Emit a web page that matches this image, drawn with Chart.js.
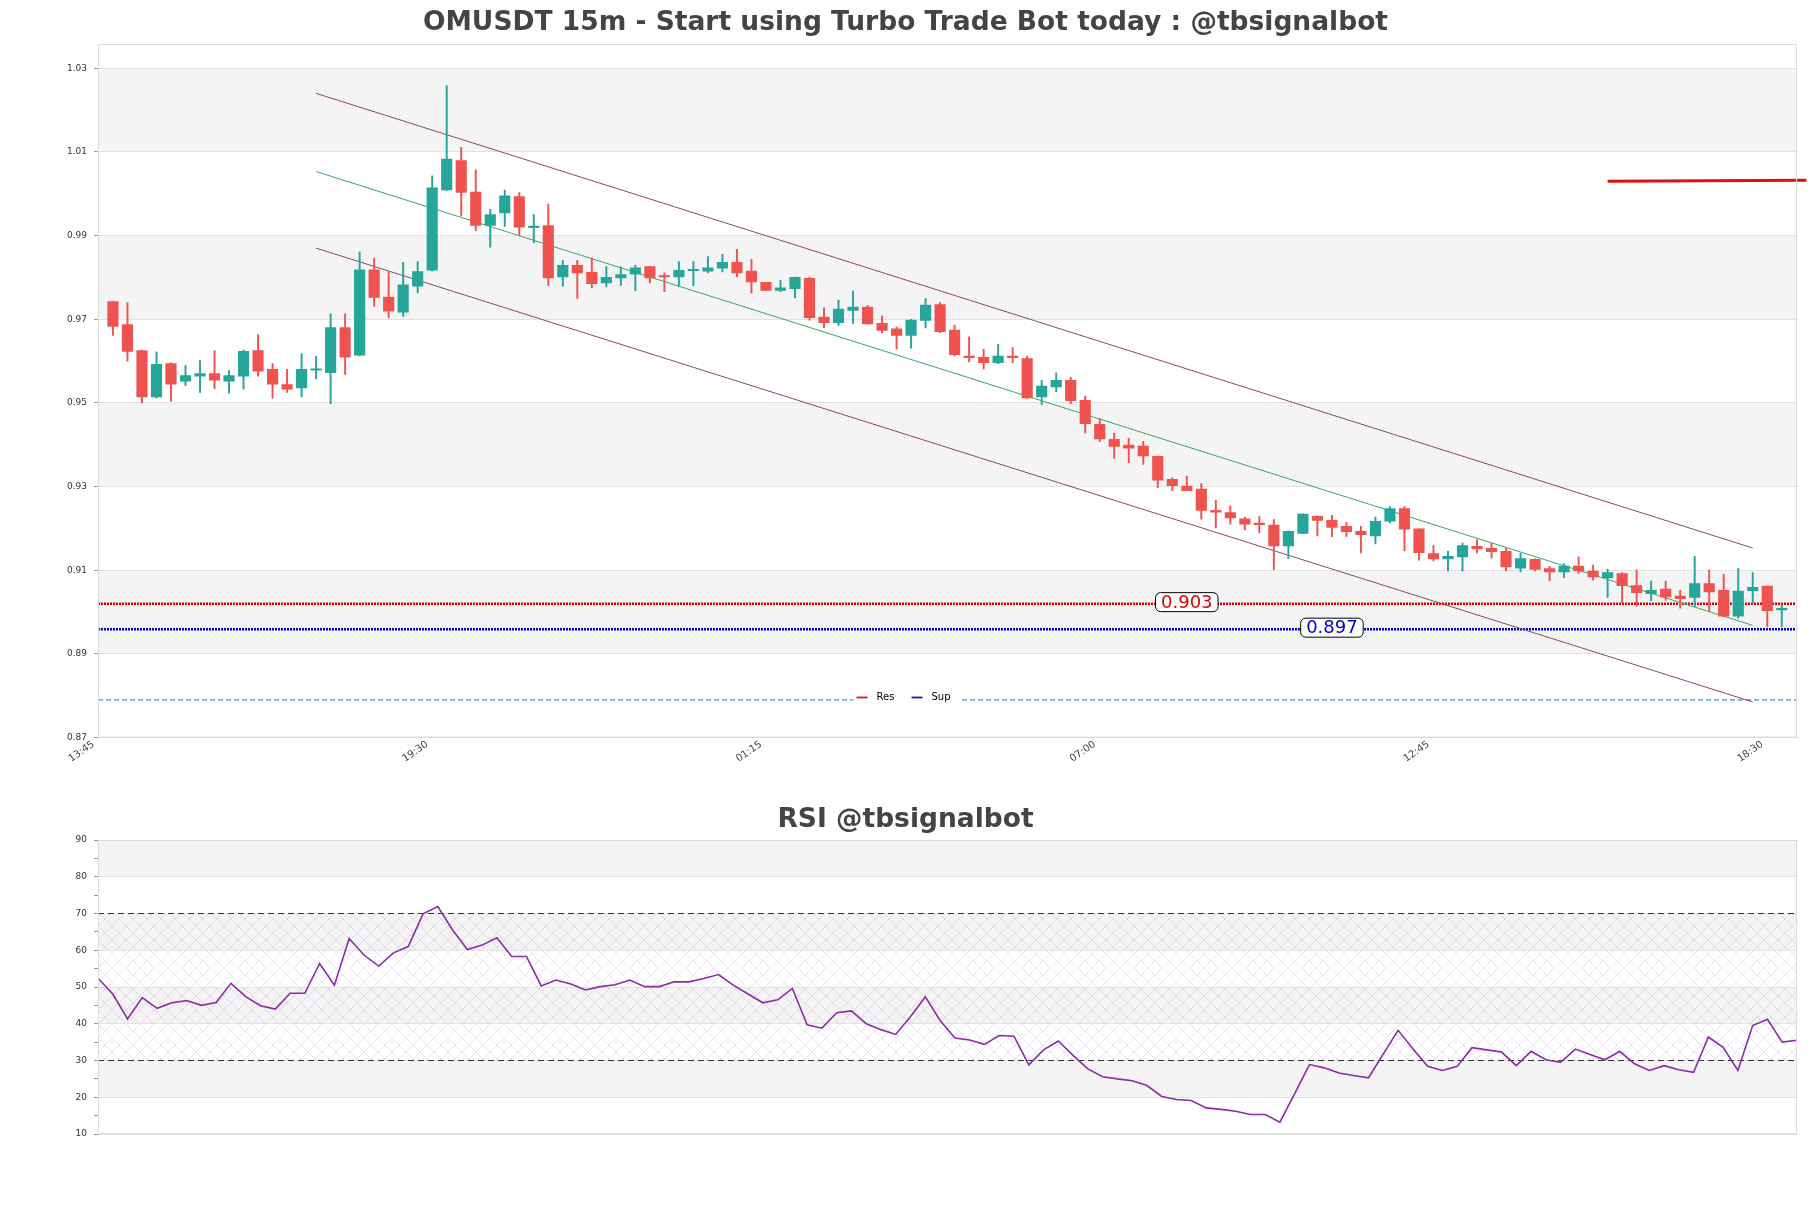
<!DOCTYPE html>
<html>
<head>
<meta charset="utf-8">
<title>OMUSDT 15m</title>
<script src="https://cdn.jsdelivr.net/npm/chart.js@4.4.1/dist/chart.umd.min.js"></script>
<style>
  body { margin: 0; background: #fff; }
  #wrap { position: relative; width: 1811px; height: 1208px; }
  #mainBox { position: absolute; left: 0; top: 0; width: 1811px; height: 800px; }
  #rsiBox { position: absolute; left: 0; top: 800px; width: 1811px; height: 408px; }
</style>
</head>
<body>
<div id="wrap">
  <div id="mainBox"><canvas id="mainChart"></canvas></div>
  <div id="rsiBox"><canvas id="rsiChart"></canvas></div>
</div>
<script>
// candles, 15m, index 0 = 14:00
var opens = [0.9742,0.9687,0.9625,0.9514,0.9594,0.9552,0.9564,0.9570,0.9552,0.9564,
  0.9625,0.9580,0.9544,0.9536,0.9578,0.9572,0.9680,0.9614,0.9818,0.9753,
  0.9717,0.9779,0.9817,1.0009,1.0079,1.0004,0.9924,0.9954,0.9993,0.9919,
  0.9924,0.9801,0.9829,0.9812,0.9787,0.9799,0.9808,0.9826,0.9803,0.9801,
  0.9816,0.9815,0.9822,0.9836,0.9815,0.9788,0.9769,0.9773,0.9798,0.9705,
  0.9692,0.9721,0.9729,0.9690,0.9677,0.9661,0.9697,0.9735,0.9674,0.9612,
  0.9609,0.9596,0.9612,0.9606,0.9514,0.9538,0.9554,0.9506,0.9449,0.9413,
  0.9399,0.9397,0.9372,0.9317,0.9301,0.9294,0.9243,0.9238,0.9223,0.9211,
  0.9208,0.9158,0.9188,0.9229,0.9219,0.9205,0.9193,0.9182,0.9217,0.9247,
  0.9199,0.9140,0.9127,0.9132,0.9157,0.9152,0.9145,0.9105,0.9126,0.9104,
  0.9096,0.9110,0.9098,0.9082,0.9092,0.9063,0.9044,0.9055,0.9038,0.9035,
  0.9068,0.9052,0.8990,0.9051,0.9062,0.9005];
var highs = [0.9742,0.9740,0.9625,0.9622,0.9596,0.9589,0.9601,0.9625,0.9577,0.9627,
  0.9663,0.9594,0.9580,0.9618,0.9611,0.9713,0.9713,0.9861,0.9846,0.9814,
  0.9836,0.9838,1.0043,1.0258,1.0111,1.0057,0.9963,1.0009,1.0003,0.9950,
  0.9975,0.9841,0.9841,0.9847,0.9826,0.9825,0.9829,0.9827,0.9811,0.9838,
  0.9838,0.9850,0.9855,0.9867,0.9843,0.9788,0.9793,0.9801,0.9801,0.9727,
  0.9746,0.9767,0.9733,0.9708,0.9682,0.9700,0.9750,0.9740,0.9686,0.9658,
  0.9628,0.9640,0.9632,0.9612,0.9554,0.9572,0.9561,0.9516,0.9463,0.9427,
  0.9415,0.9408,0.9373,0.9321,0.9325,0.9307,0.9267,0.9253,0.9227,0.9229,
  0.9221,0.9194,0.9235,0.9230,0.9231,0.9215,0.9205,0.9227,0.9252,0.9252,
  0.9199,0.9159,0.9145,0.9165,0.9173,0.9165,0.9152,0.9141,0.9127,0.9109,
  0.9116,0.9132,0.9112,0.9102,0.9094,0.9101,0.9074,0.9074,0.9052,0.9133,
  0.9101,0.9090,0.9104,0.9094,0.9062,0.9017];
var lows = [0.9661,0.9600,0.9500,0.9511,0.9504,0.9541,0.9525,0.9534,0.9524,0.9533,
  0.9564,0.9511,0.9525,0.9514,0.9557,0.9498,0.9568,0.9612,0.9731,0.9703,
  0.9707,0.9763,0.9815,1.0008,0.9947,0.9912,0.9872,0.9922,0.9900,0.9883,
  0.9781,0.9779,0.9750,0.9775,0.9777,0.9781,0.9768,0.9787,0.9766,0.9779,
  0.9780,0.9811,0.9813,0.9801,0.9762,0.9769,0.9766,0.9751,0.9698,0.9680,
  0.9685,0.9690,0.9688,0.9667,0.9629,0.9631,0.9679,0.9668,0.9612,0.9598,
  0.9581,0.9594,0.9596,0.9510,0.9496,0.9526,0.9498,0.9428,0.9407,0.9367,
  0.9357,0.9353,0.9297,0.9290,0.9290,0.9222,0.9201,0.9210,0.9196,0.9189,
  0.9101,0.9128,0.9187,0.9182,0.9180,0.9181,0.9141,0.9163,0.9213,0.9146,
  0.9124,0.9122,0.9098,0.9098,0.9141,0.9129,0.9098,0.9096,0.9098,0.9075,
  0.9082,0.9092,0.9076,0.9035,0.9021,0.9014,0.9027,0.9028,0.9009,0.9013,
  0.9002,0.8989,0.8985,0.9021,0.8965,0.8965];
var closes = [0.9683,0.9623,0.9514,0.9592,0.9545,0.9565,0.9570,0.9554,0.9565,0.9623,
  0.9576,0.9545,0.9533,0.9580,0.9579,0.9680,0.9609,0.9818,0.9752,0.9719,
  0.9782,0.9814,1.0014,1.0083,1.0003,0.9924,0.9950,0.9995,0.9920,0.9921,
  0.9799,0.9829,0.9811,0.9785,0.9800,0.9807,0.9823,0.9799,0.9801,0.9817,
  0.9818,0.9823,0.9836,0.9811,0.9789,0.9769,0.9775,0.9800,0.9704,0.9692,
  0.9724,0.9729,0.9689,0.9673,0.9661,0.9698,0.9734,0.9670,0.9615,0.9608,
  0.9596,0.9612,0.9608,0.9512,0.9540,0.9554,0.9505,0.9450,0.9414,0.9396,
  0.9392,0.9373,0.9315,0.9302,0.9290,0.9243,0.9239,0.9225,0.9210,0.9209,
  0.9158,0.9193,0.9234,0.9219,0.9202,0.9192,0.9185,0.9217,0.9247,0.9198,
  0.9142,0.9127,0.9133,0.9159,0.9151,0.9144,0.9108,0.9128,0.9102,0.9096,
  0.9110,0.9098,0.9084,0.9094,0.9063,0.9046,0.9052,0.9036,0.9032,0.9068,
  0.9048,0.8990,0.9050,0.9059,0.9003,0.9009];

var rsi = [52.4,48.1,41.3,47.1,44.2,45.7,46.3,45.0,45.8,51.0,
  47.4,44.9,44.0,48.3,48.3,56.4,50.5,63.2,58.7,55.7,
  59.3,61.0,69.9,71.9,65.5,60.2,61.4,63.4,58.3,58.3,
  50.3,51.9,50.8,49.2,50.1,50.6,51.9,50.1,50.1,51.4,
  51.4,52.3,53.4,50.5,48.1,45.7,46.5,49.6,39.7,38.8,
  43.0,43.5,40.0,38.4,37.1,42.0,47.3,40.9,36.1,35.6,
  34.4,36.8,36.6,28.8,32.9,35.3,31.4,27.7,25.6,25.0,
  24.5,23.2,20.2,19.4,19.1,17.1,16.7,16.2,15.3,15.3,
  13.2,21.0,28.9,28.0,26.6,25.9,25.3,31.8,38.2,33.2,
  28.4,27.3,28.4,33.5,32.9,32.3,28.6,32.5,30.2,29.5,
  33.1,31.6,30.2,32.5,29.1,27.3,28.6,27.5,26.8,36.4,
  33.6,27.3,39.5,41.2,35.0,35.5];

var xTickIdx = [-1, 22, 45, 68, 91, 114];
var xTickLabels = ['13:45', '19:30', '01:15', '07:00', '12:45', '18:30'];
var priceTicks = [0.87, 0.89, 0.91, 0.93, 0.95, 0.97, 0.99, 1.01, 1.03];
var rsiTicks = [10, 20, 30, 40, 50, 60, 70, 80, 90];
var rsiLevels = [70, 30];

var resLevel = 0.902, resText = '0.903', resAt = 74;
var supLevel = 0.8959, supText = '0.897', supAt = 84;
var dashLevel = 0.879;
var channelX = [14, 113];
var channelUpper = [1.0240, 0.9153];
var channelMid = [1.0053, 0.8968];
var channelLower = [0.9870, 0.8785];
var redSegX = [103, 116.7];
var redSegY = [1.0030, 1.0032];

var xMin = -1.03, xMax = 116.05;
var yMin = 0.87, yMax = 1.0358;

var GREEN = '#26a69a', RED = '#ef5350';
var FONT = 'DejaVu Sans';

var idx = closes.map(function (c, i) { return i; });
var candleColors = idx.map(function (i) { return closes[i] >= opens[i] ? GREEN : RED; });
var bodies = idx.map(function (i) { return { x: i, y: [opens[i], closes[i]] }; });
var wicks = idx.map(function (i) { return { x: i, y: [lows[i], highs[i]] }; });

function seg(xs, ys) {
  return [{ x: xs[0], y: ys[0] }, { x: xs[1], y: ys[1] }];
}

// background bands, hatch and frame of the plot area
var panelPlugin = {
  id: 'panel',
  beforeDraw: function (chart, args, opts) {
    var a = chart.chartArea, ys = chart.scales.y, ctx = chart.ctx;
    var t = opts.ticks;
    ctx.save();
    ctx.fillStyle = '#f4f4f4';
    for (var k = 1; k < t.length - 1; k += 2) {
      var top = ys.getPixelForValue(t[k + 1]), bot = ys.getPixelForValue(t[k]);
      ctx.fillRect(a.left, top, a.right - a.left, bot - top);
    }
    if (opts.hatch) {
      var c = document.createElement('canvas');
      c.width = 14; c.height = 14;
      var g = c.getContext('2d');
      g.strokeStyle = 'rgba(175,140,195,0.30)';
      g.lineWidth = 0.8;
      g.beginPath();
      g.moveTo(0, 0); g.lineTo(14, 14);
      g.moveTo(14, 0); g.lineTo(0, 14);
      g.stroke();
      ctx.fillStyle = ctx.createPattern(c, 'repeat');
      var h1 = ys.getPixelForValue(opts.hatch[1]), h2 = ys.getPixelForValue(opts.hatch[0]);
      ctx.fillRect(a.left, h1, a.right - a.left, h2 - h1);
    }
    ctx.restore();
  },
  afterDraw: function (chart) {
    var a = chart.chartArea, ctx = chart.ctx;
    ctx.save();
    ctx.strokeStyle = '#dcdcdc';
    ctx.lineWidth = 1;
    ctx.strokeRect(a.left + 0.5, a.top + 0.5, a.right - a.left - 1, a.bottom - a.top - 1);
    ctx.restore();
  }
};

// price tags on the S/R lines and the small legend
var tagPlugin = {
  id: 'tags',
  afterDatasetsDraw: function (chart) {
    var ctx = chart.ctx, xs = chart.scales.x, ys = chart.scales.y, a = chart.chartArea;
    function tag(text, xv, yv, color) {
      ctx.font = '18px "' + FONT + '"';
      var w = ctx.measureText(text).width + 11, h = 19;
      var cx = xs.getPixelForValue(xv), cy = ys.getPixelForValue(yv) - 1.5;
      ctx.beginPath();
      ctx.roundRect(cx - w / 2, cy - h / 2, w, h, 5);
      ctx.fillStyle = '#fff';
      ctx.fill();
      ctx.strokeStyle = '#000';
      ctx.lineWidth = 1;
      ctx.stroke();
      ctx.fillStyle = color;
      ctx.textAlign = 'center';
      ctx.textBaseline = 'middle';
      ctx.fillText(text, cx, cy + 1);
    }
    ctx.save();
    tag(resText, resAt, resLevel, '#e00000');
    tag(supText, supAt, supLevel, '#0000cc');

    var cx = chart.width / 2, cy = a.bottom - 40;
    ctx.fillStyle = '#fff';
    ctx.fillRect(cx - 52, cy - 10, 106, 20);
    var items = [chart.data.datasets[2], chart.data.datasets[3]];
    ctx.font = '10px "' + FONT + '"';
    ctx.textAlign = 'left';
    ctx.textBaseline = 'middle';
    items.forEach(function (d, i) {
      var x0 = cx - 49 + i * 55;
      ctx.strokeStyle = d.legendColor;
      ctx.lineWidth = 1.8;
      ctx.beginPath();
      ctx.moveTo(x0, cy); ctx.lineTo(x0 + 11, cy);
      ctx.stroke();
      ctx.fillStyle = '#000';
      ctx.fillText(d.label, x0 + 20, cy);
    });
    ctx.restore();
  }
};

var mainChart = new Chart(document.getElementById('mainChart'), {
  type: 'bar',
  data: {
    datasets: [
      { type: 'bar', label: 'body', data: bodies, backgroundColor: candleColors,
        barThickness: 10.5, minBarLength: 1.5, grouped: false, borderWidth: 0, order: 1 },
      { type: 'bar', label: 'wick', data: wicks, backgroundColor: candleColors,
        barThickness: 1.3, grouped: false, borderWidth: 0, order: 2 },
      { type: 'line', label: 'Res', data: seg([xMin, xMax], [resLevel, resLevel]),
        borderColor: '#d40000', legendColor: '#cc2222', borderWidth: 2.5, borderDash: [2, 1],
        pointRadius: 0, order: 5 },
      { type: 'line', label: 'Sup', data: seg([xMin, xMax], [supLevel, supLevel]),
        borderColor: '#0000c8', legendColor: '#1a1a9a', borderWidth: 2.5, borderDash: [2, 1],
        pointRadius: 0, order: 5 },
      { type: 'line', label: 'dash', data: seg([xMin, xMax], [dashLevel, dashLevel]),
        borderColor: '#2b9bd8', borderWidth: 1.2, borderDash: [5, 3], pointRadius: 0, order: 5 },
      { type: 'line', label: 'upper', data: seg(channelX, channelUpper),
        borderColor: '#8c4a5f', borderWidth: 1, pointRadius: 0, order: 4 },
      { type: 'line', label: 'mid', data: seg(channelX, channelMid),
        borderColor: '#37a862', borderWidth: 1, pointRadius: 0, order: 4 },
      { type: 'line', label: 'lower', data: seg(channelX, channelLower),
        borderColor: '#8c4a5f', borderWidth: 1, pointRadius: 0, order: 4 },
      { type: 'line', label: 'mark', data: seg(redSegX, redSegY),
        borderColor: '#dd1111', borderWidth: 3, pointRadius: 0, clip: false, order: 0 }
    ]
  },
  options: {
    responsive: true,
    maintainAspectRatio: false,
    animation: false,
    events: [],
    layout: { padding: { left: 14, right: 14, top: 0, bottom: 0 } },
    plugins: {
      legend: { display: false },
      tooltip: { enabled: false },
      title: {
        display: true,
        text: 'OMUSDT 15m - Start using Turbo Trade Bot today : @tbsignalbot',
        color: '#444',
        font: { family: FONT, size: 26.5, weight: 'bold', lineHeight: 1.2 },
        padding: { top: 7, bottom: 5.2 }
      },
      panel: { ticks: priceTicks }
    },
    scales: {
      x: {
        type: 'linear',
        min: xMin,
        max: xMax,
        offset: false,
        afterBuildTicks: function (s) { s.ticks = xTickIdx.map(function (v) { return { value: v }; }); },
        afterFit: function (s) { s.height = 62.5; },
        grid: { display: false },
        border: { color: '#dcdcdc' },
        ticks: {
          autoSkip: false,
          minRotation: 35,
          maxRotation: 35,
          padding: -7,
          labelOffset: -5,
          color: '#444',
          font: { family: FONT, size: 10 },
          callback: function (v) { return xTickLabels[xTickIdx.indexOf(v)]; }
        }
      },
      y: {
        min: yMin,
        max: yMax,
        afterBuildTicks: function (s) { s.ticks = priceTicks.map(function (v) { return { value: v }; }); },
        afterFit: function (s) { s.width = 84; },
        grid: { color: '#e2e2e2', tickColor: '#999', tickLength: 4 },
        border: { color: '#dcdcdc' },
        ticks: {
          padding: 7,
          color: '#333',
          font: { family: FONT, size: 9 },
          callback: function (v) { return v.toFixed(2); }
        }
      }
    }
  },
  plugins: [panelPlugin, tagPlugin]
});

var rsiMinor = [];
for (var k = 0; k < rsiTicks.length - 1; k++) {
  rsiMinor.push(rsiTicks[k], (rsiTicks[k] + rsiTicks[k + 1]) / 2);
}
rsiMinor.push(rsiTicks[rsiTicks.length - 1]);

var rsiChart = new Chart(document.getElementById('rsiChart'), {
  type: 'line',
  data: {
    datasets: [
      { label: 'RSI', data: idx.map(function (i) { return { x: i, y: rsi[i] }; }),
        borderColor: '#8e2aa8', borderWidth: 1.6, pointRadius: 0, tension: 0, order: 0 },
      { label: 'ob', data: seg([0, closes.length - 1], [rsiLevels[0], rsiLevels[0]]),
        borderColor: '#333', borderWidth: 1.2, borderDash: [6, 4], pointRadius: 0, order: 1 },
      { label: 'os', data: seg([0, closes.length - 1], [rsiLevels[1], rsiLevels[1]]),
        borderColor: '#333', borderWidth: 1.2, borderDash: [6, 4], pointRadius: 0, order: 1 }
    ]
  },
  options: {
    responsive: true,
    maintainAspectRatio: false,
    animation: false,
    events: [],
    layout: { padding: { left: 14, right: 14, top: 0, bottom: 74 } },
    plugins: {
      legend: { display: false },
      tooltip: { enabled: false },
      title: {
        display: true,
        text: 'RSI @tbsignalbot',
        color: '#444',
        font: { family: FONT, size: 26.5, weight: 'bold', lineHeight: 1.2 },
        padding: { top: 4.1, bottom: 4.1 }
      },
      panel: { ticks: rsiTicks, hatch: [rsiLevels[1], rsiLevels[0]] }
    },
    scales: {
      x: { type: 'linear', min: 0, max: closes.length - 1, display: false },
      y: {
        min: rsiTicks[0],
        max: rsiTicks[rsiTicks.length - 1],
        afterBuildTicks: function (s) { s.ticks = rsiMinor.map(function (v) { return { value: v }; }); },
        afterFit: function (s) { s.width = 84; },
        grid: {
          color: function (c) { return rsiTicks.indexOf(c.tick.value) >= 0 ? '#e2e2e2' : 'rgba(0,0,0,0)'; },
          tickColor: '#999',
          tickLength: 4
        },
        border: { color: '#dcdcdc' },
        ticks: {
          padding: 7,
          color: '#333',
          font: { family: FONT, size: 9 },
          callback: function (v) { return rsiTicks.indexOf(v) >= 0 ? String(v) : ''; }
        }
      }
    }
  },
  plugins: [panelPlugin]
});
</script>
</body>
</html>
